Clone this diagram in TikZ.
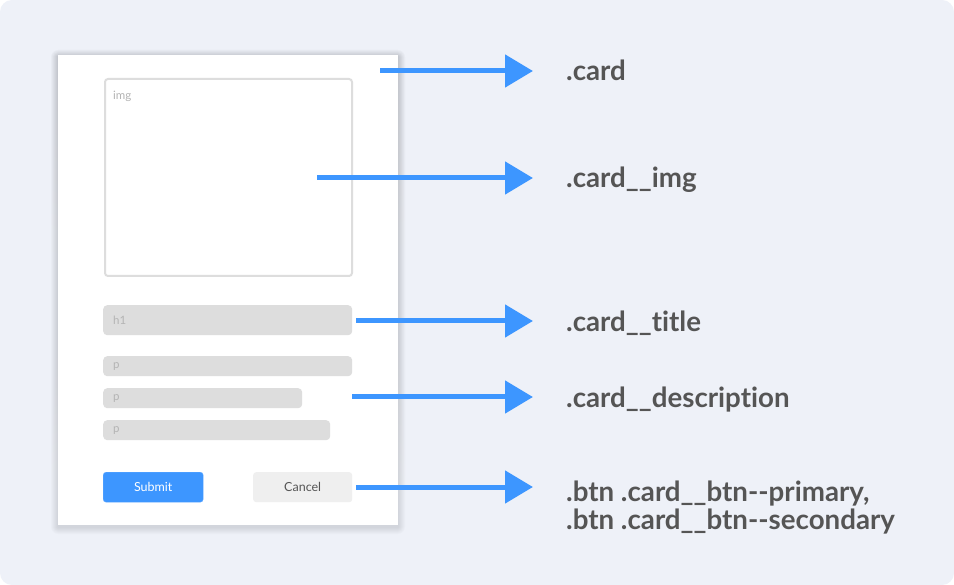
\documentclass[tikz,border=0pt]{standalone}
\usepackage{fontspec}
\setmainfont{Lato}[Ligatures=NoCommon]
\usetikzlibrary{arrows.meta,positioning}

\definecolor{bgBlue}{HTML}{EEF1F8}
\definecolor{arrowBlue}{HTML}{3D96FF}
\definecolor{barGray}{HTML}{DDDDDD}
\definecolor{hintGray}{HTML}{B4B4B4}
\definecolor{labelGray}{HTML}{555555}
\definecolor{btnGray}{HTML}{EFEFEF}
\definecolor{shade}{HTML}{5A6478}

\begin{document}
\begin{tikzpicture}
	[
	x=1pt, y=-1pt,
	card/.style={fill=white, inner sep=0pt},
	imgbox/.style={draw=barGray, line width=2pt, rounded corners=3pt, inner sep=0pt},
	bar/.style={fill=barGray, rounded corners=4pt, inner xsep=10pt, inner ysep=0pt, align=left,
		font=\fontsize{11.5}{13}\selectfont, text=hintGray},
	btn/.style={rounded corners=3pt, minimum height=30pt, inner sep=0pt,
		font=\fontsize{12.5}{14}\selectfont},
	hint/.style={font=\fontsize{11.5}{13}\selectfont, text=hintGray, inner sep=0pt},
	tag/.style={font=\fontsize{27.7}{28}\selectfont\bfseries, text=labelGray, inner sep=0pt, align=left},
	pointer/.style={draw=arrowBlue, line width=5pt, -{Triangle[length=28pt, width=32pt]}, shorten >=33pt}
	]
		% backdrop
		\fill[white] (0,0) rectangle (954,585);
		\fill[bgBlue, rounded corners=12pt] (0,0) rectangle (954,585);

		% soft shadow under the card
		\foreach \d in {1,...,7}
			\fill[shade, opacity=0.014, rounded corners=\d pt] (58-\d,57-\d) rectangle (398+\d,527+\d);

		% the card
		\node[card, anchor=north west, minimum width=340pt, minimum height=470pt] (card) at (58,55) {};
		\node[imgbox, anchor=north west, minimum width=247pt, minimum height=197pt] (img) at (104,78) {};
		\node[hint, anchor=base west] (imgtxt) at ([xshift=9pt, yshift=-21.5pt]img.north west) {img};

		% text bars
		\node[bar, anchor=north west, text width=229pt, minimum height=30pt] (h1) at (103,305) {h1};
		\node[bar, anchor=north west, text width=229pt, minimum height=20pt] (p1) at (103,356) {p};
		\node[bar, anchor=north west, text width=179pt, minimum height=20pt] (p2) at (103,388) {p};
		\node[bar, anchor=north west, text width=207pt, minimum height=20pt] (p3) at (103,420) {p};

		% buttons
		\node[btn, anchor=north west, minimum width=100pt, fill=arrowBlue, draw=arrowBlue!80!white, text=white] (submit) at (103,472) {Submit};
		\node[btn, anchor=north west, minimum width=99pt, fill=btnGray, text=labelGray] (cancel) at (253,472) {Cancel};

		% class names
		\node[tag, anchor=base west] (l1) at (566,81) {.card};
		\node[tag, anchor=base west] (l2) at (566,188) {.card\_\_img};
		\node[tag, anchor=base west] (l3) at (566,332) {.card\_\_title};
		\node[tag, anchor=base west] (l4) at (566,408) {.card\_\_description};
		\node[tag, anchor=base west] (l5) at (566,529) {.btn .card\_\_btn-{}-primary,\\.btn .card\_\_btn-{}-secondary};

		% arrow starts
		\coordinate (s1) at (380,71);
		\coordinate (s2) at (317,178);
		\coordinate (s3) at (356,321);
		\coordinate (s4) at (352,397);
		\coordinate (s5) at (356,487);

		% drawing code
		\foreach \from/\to in {s1/l1,s2/l2,s3/l3,s4/l4,s5/l5} \draw[pointer] (\from) -- (\from -| \to.west);
	\end{tikzpicture}
\end{document}
